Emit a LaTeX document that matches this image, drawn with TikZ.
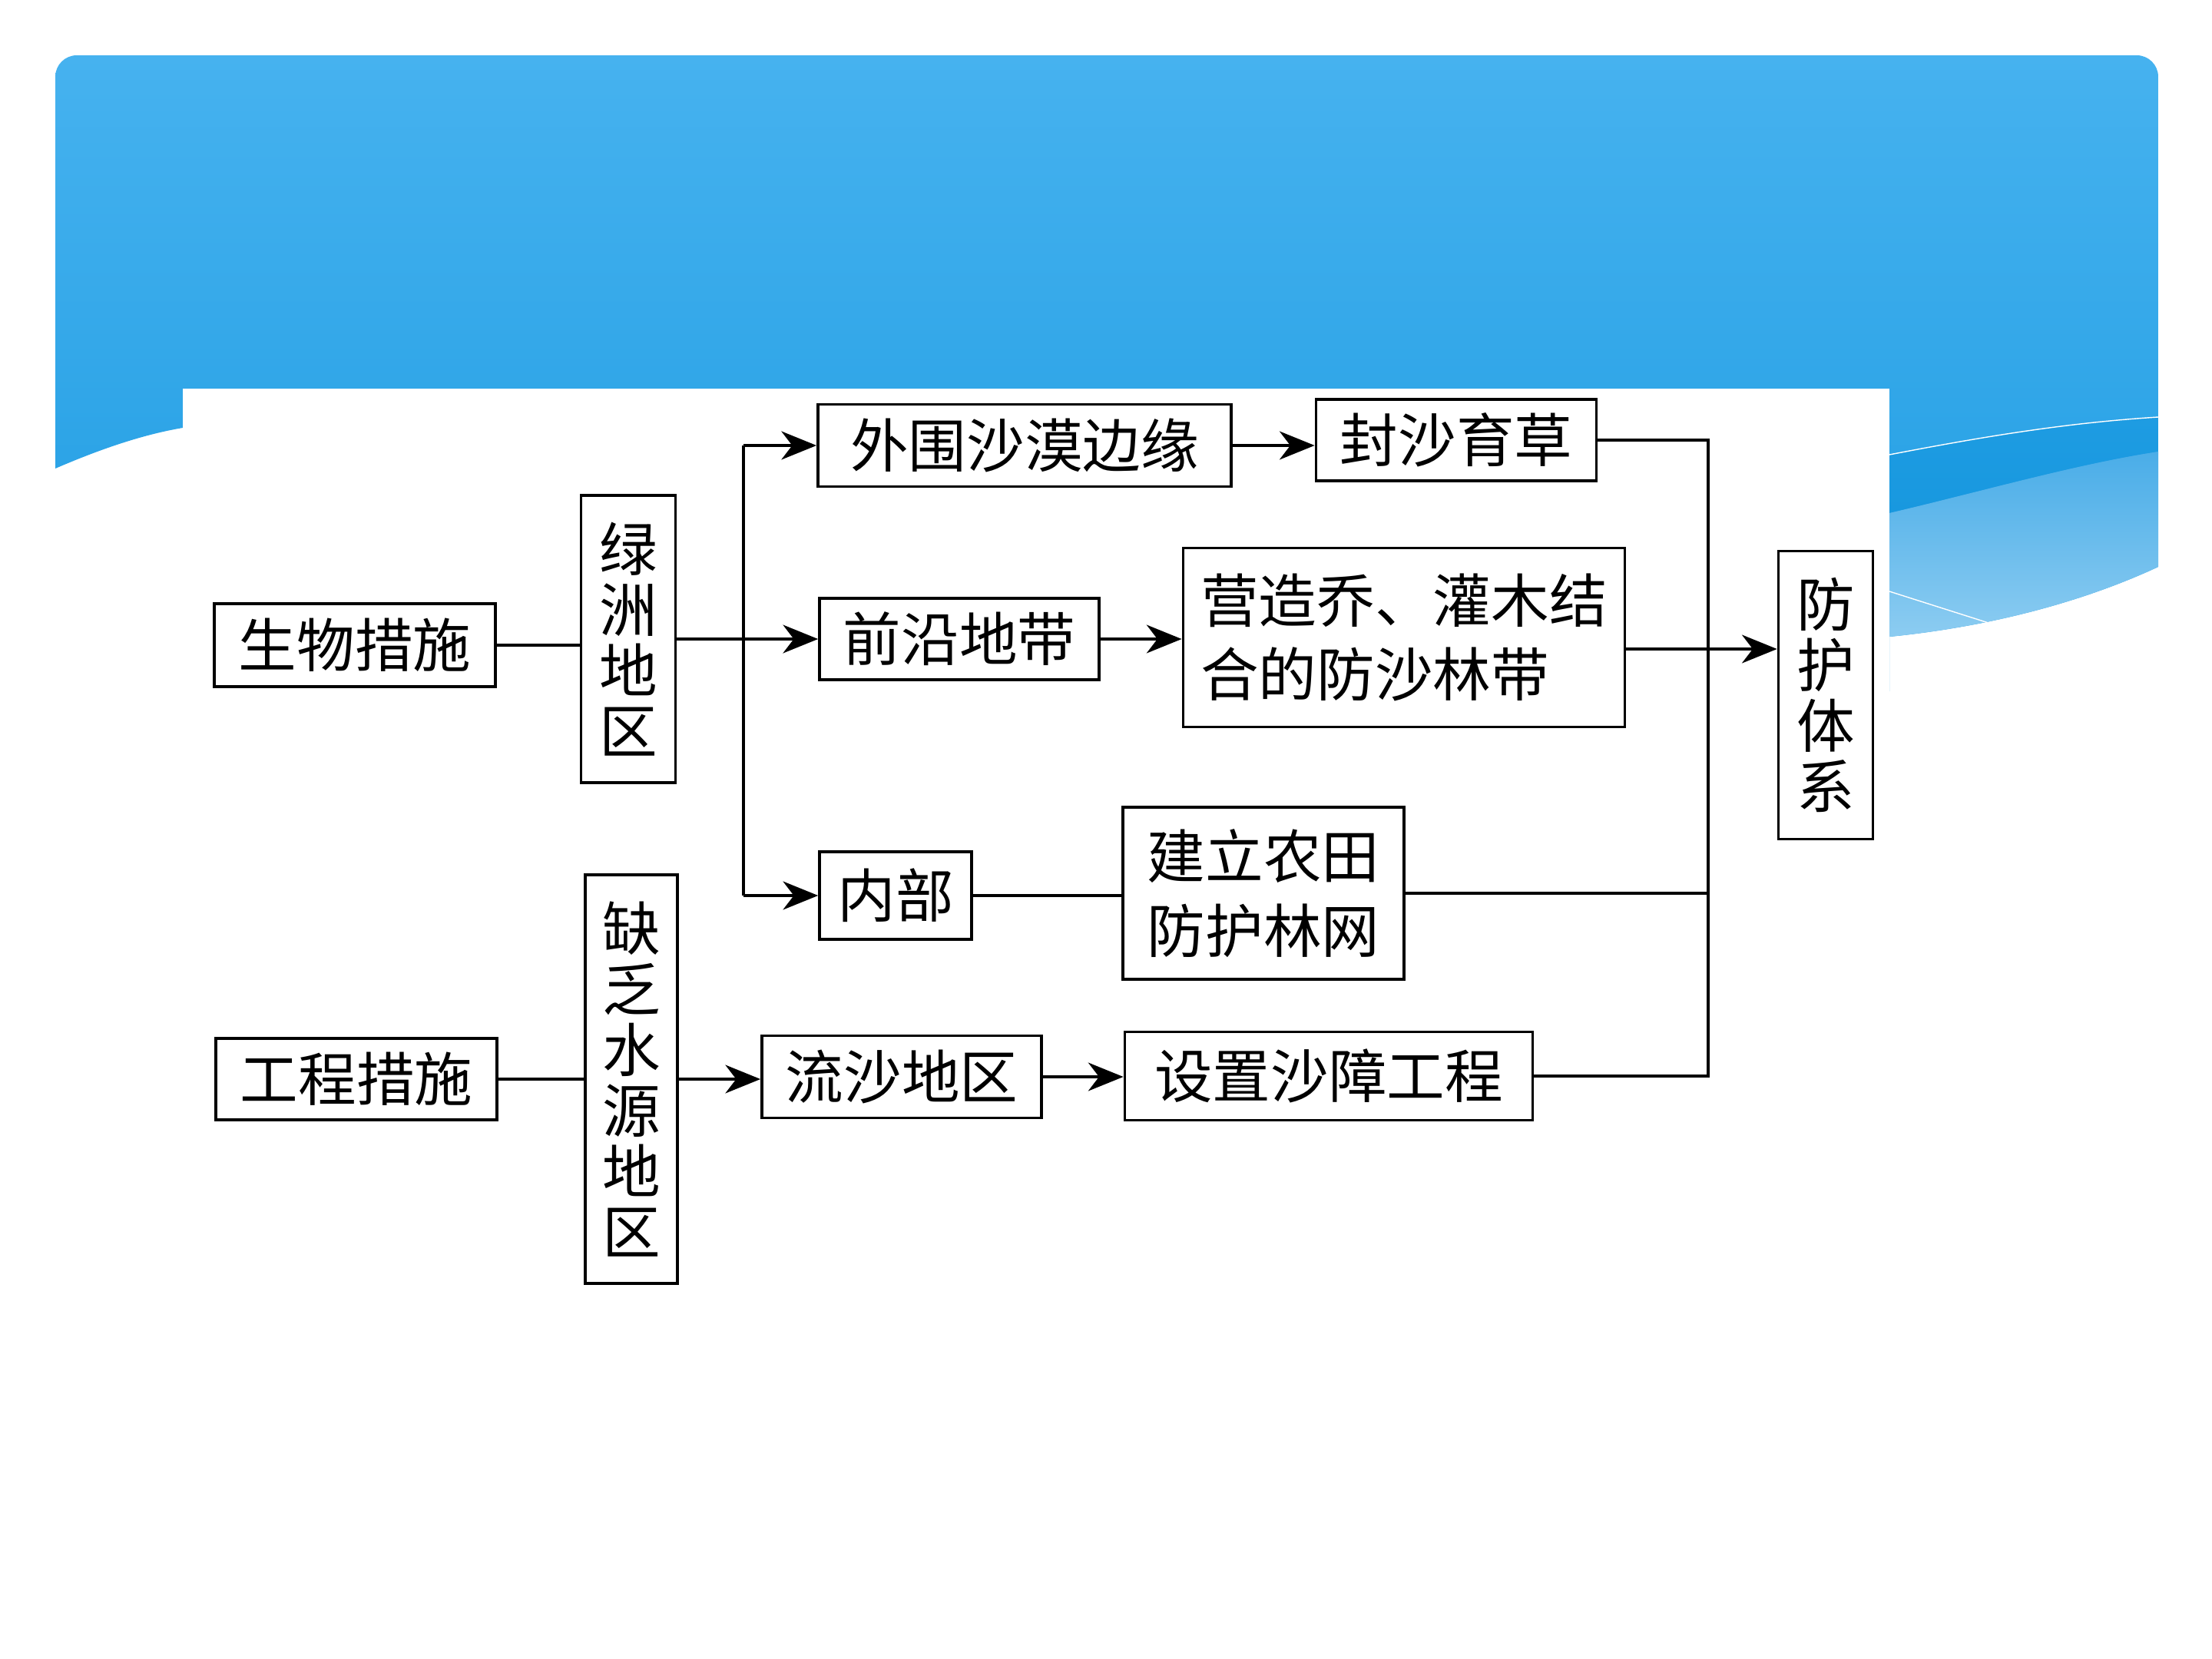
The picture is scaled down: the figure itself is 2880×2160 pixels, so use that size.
\documentclass[tikz,border=0pt]{standalone}
\usepackage{fontspec}
\newfontfamily\cjk{Noto Sans CJK SC}
\usetikzlibrary{arrows.meta}

\definecolor{bannertop}{HTML}{46B2EF}
\definecolor{bannerbot}{HTML}{1E9CE2}
\definecolor{waveband}{HTML}{1898DF}
\definecolor{wavetop}{HTML}{4AADE8}
\definecolor{wavebot}{HTML}{8CCCF1}

\begin{document}
\begin{tikzpicture}[x=0.01cm,y=-0.01cm,
    box/.style={draw,line width=1pt,fill=white,inner sep=0pt,align=center,
      font=\cjk\fontsize{21.5pt}{22.5pt}\selectfont},
    twoline/.style={box,font=\cjk\fontsize{21.5pt}{27.5pt}\selectfont},
    link/.style={line width=0.95pt},
    arr/.style={link,-{Stealth[length=13pt,width=10.5pt,inset=4pt]}}]
  \useasboundingbox (0,0) rectangle (2880,2160);

  % blue banner
  \shade[top color=bannertop,bottom color=bannerbot]
    (72,610) .. controls (130,585) and (185,566) .. (238,557) -- (238,900)
    -- (2460,900) -- (2460,829) .. controls (2600,815) and (2720,780) .. (2810,738)
    -- (2810,200) [rounded corners=2.8mm] -- (2810,72) -- (72,72) -- (72,200)
    [sharp corners] -- cycle;
  \shade[top color=bannerbot,bottom color=waveband]
    (2460,592) .. controls (2600,565) and (2700,550) .. (2810,543)
    -- (2810,588) .. controls (2700,605) and (2580,640) .. (2460,668) -- cycle;
  \shade[top color=wavetop,bottom color=wavebot]
    (2460,668) .. controls (2580,640) and (2700,605) .. (2810,588)
    -- (2810,738) .. controls (2720,780) and (2600,815) .. (2460,829) -- cycle;
  \draw[white,line width=0.4pt] (2460,592) .. controls (2600,565) and (2700,550) .. (2810,543);
  \draw[white,line width=0.4pt] (2460,770) -- (2589,811);
  \fill[white] (238,506) rectangle (2460,1900);

  % boxes
  \node[box,minimum width=3.66cm,minimum height=1.08cm] (swcs) at (462,840) {生物措施};
  \node[box,minimum width=1.23cm,minimum height=3.74cm] (lzdq) at (818,832) {绿\\洲\\地\\区};
  \node[box,minimum width=5.38cm,minimum height=1.07cm] (wwby) at (1334,580) {外围沙漠边缘};
  \node[box,minimum width=3.65cm,minimum height=1.06cm] (fsyc) at (1896,573) {封沙育草};
  \node[box,minimum width=3.64cm,minimum height=1.06cm] (qydd) at (1249,832) {前沿地带};
  \node[twoline,align=left,minimum width=5.75cm,minimum height=2.33cm] (yzlx) at (1828,830)
    {营造乔、灌木结\\合的防沙林带};
  \node[box,minimum width=1.23cm,minimum height=3.75cm] (fhtx) at (2377,905) {防\\护\\体\\系};
  \node[box,minimum width=1.98cm,minimum height=1.14cm] (nbu) at (1166,1166) {内部};
  \node[twoline,minimum width=3.66cm,minimum height=2.24cm] (jlnt) at (1645,1163)
    {建立农田\\防护林网};
  \node[box,minimum width=3.66cm,minimum height=1.06cm] (gccs) at (464,1405) {工程措施};
  \node[box,minimum width=1.20cm,minimum height=5.32cm] (qfsy) at (822,1405) {缺\\乏\\水\\源\\地\\区};
  \node[box,minimum width=3.64cm,minimum height=1.07cm] (lsdq) at (1174,1402) {流沙地区};
  \node[box,minimum width=5.31cm,minimum height=1.15cm] (szsz) at (1730,1401) {设置沙障工程};

  % connectors
  \coordinate (fork) at (968,832);
  \coordinate (join) at (2224,845);
  \draw[link] (swcs) -- (swcs -| lzdq.west);
  \draw[arr] (lzdq.east |- qydd) -- (qydd);
  \draw[link] (fork |- wwby) -- (fork |- nbu);
  \draw[arr] (fork |- wwby) -- (wwby);
  \draw[arr] (fork |- nbu) -- (nbu);
  \draw[arr] (wwby) -- (wwby -| fsyc.west);
  \draw[arr] (qydd) -- (qydd -| yzlx.west);
  \draw[link] (nbu) -- (nbu -| jlnt.west);
  \draw[link] (gccs) -- (gccs -| qfsy.west);
  \draw[arr] (qfsy.east |- gccs) -- (gccs -| lsdq.west);
  \draw[arr] (lsdq) -- (lsdq -| szsz.west);
  \draw[link] (fsyc) -- (fsyc -| join) -- (szsz -| join) -- (szsz);
  \draw[link] (jlnt) -- (jlnt -| join);
  \draw[link] (yzlx.east |- join) -- (join);
  \draw[arr] (join) -- (join -| fhtx.west);
\end{tikzpicture}
\end{document}
